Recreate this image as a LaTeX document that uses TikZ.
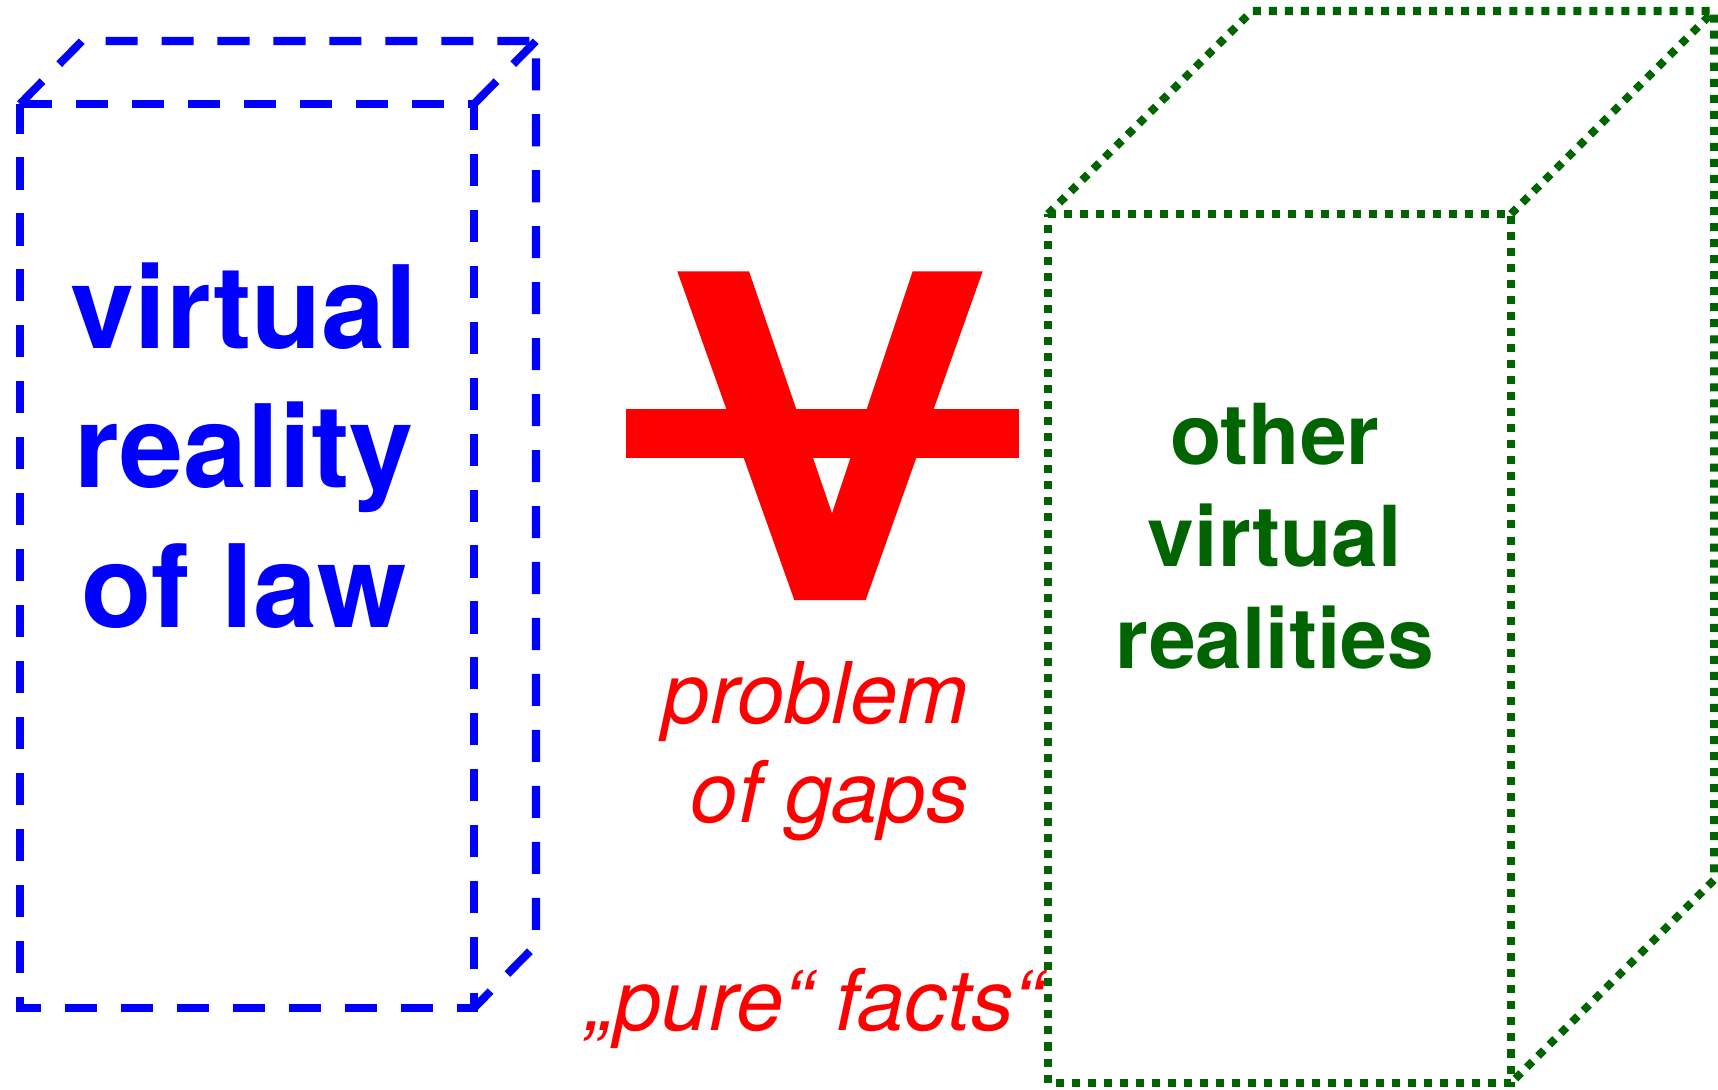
\documentclass[tikz,border=0pt]{standalone}
\usepackage{fontspec}
\setmainfont{TeX Gyre Heros}

\definecolor{lawblue}{RGB}{0,0,255}
\definecolor{othergreen}{RGB}{0,100,0}
\definecolor{gapred}{RGB}{255,0,0}

\begin{document}
\begin{tikzpicture}[x=0.025cm, y=-0.025cm]
  \tikzset{
    lawbox/.style={draw=lawblue, line width=5.7pt, dash pattern=on 22.8pt off 17pt},
    otherbox/.style={draw=othergreen, line width=5.7pt, dash pattern=on 5.7pt off 5.7pt},
    lawtext/.style={text=lawblue, inner sep=0pt, align=center,
      font=\fontsize{81.8pt}{98.9pt}\selectfont\bfseries},
    othertext/.style={text=othergreen, inner sep=0pt, align=center,
      font=\fontsize{59.8pt}{72.5pt}\selectfont\bfseries},
    gaptext/.style={text=gapred, inner sep=0pt,
      font=\fontsize{60.5pt}{70.4pt}\selectfont\itshape}
  }
  \useasboundingbox (0,0) rectangle (1718,1090);

  % Law box, front face and back edges
  \coordinate (A) at (20,104);
  \coordinate (B) at (474,104);
  \coordinate (C) at (474,1008);
  \coordinate (D) at (20,1008);
  \coordinate (A1) at (82,41);
  \coordinate (B1) at (536,41);
  \coordinate (C1) at (536,945);
  \draw[lawbox] (A) -- (B) -- (C) -- (D) -- cycle;
  \draw[lawbox] (A) -- (A1) -- (B1) -- (C1) -- (C);
  \draw[lawbox] (B) -- (B1);

  % Other box, front face and back edges
  \coordinate (E) at (1048,214);
  \coordinate (F) at (1511,214);
  \coordinate (G) at (1511,1083);
  \coordinate (H) at (1048,1083);
  \coordinate (E1) at (1252,11);
  \coordinate (F1) at (1714,11);
  \coordinate (G1) at (1714,880);
  \draw[otherbox] (E) -- (F) -- (G) -- (H) -- cycle;
  \draw[otherbox] (E) -- (E1) -- (F1) -- (G1) -- (G);
  \draw[otherbox] (F) -- (F1);

  % Struck V between the boxes
  \fill[gapred] (677.3,271.3) -- (749,271.3) -- (832,513.3) -- (912.7,271.3)
    -- (982.7,271.3) -- (865.7,600) -- (794.3,600) -- cycle;
  \fill[gapred] (625.7,409.3) rectangle (1018.7,457.7);

  % Labels (base = last line)
  \node[lawtext, anchor=base] (law) at (244,627) {virtual\\reality\\of law};
  \node[othertext, anchor=base] (other) at (1275,668) {other\\virtual\\realities};
  \node[gaptext, align=right, anchor=base east] (gaps) at (969,822) {problem\\of gaps};
  \node[gaptext, anchor=base west] (facts) at (586,1030) {„pure“ facts“};
\end{tikzpicture}
\end{document}
